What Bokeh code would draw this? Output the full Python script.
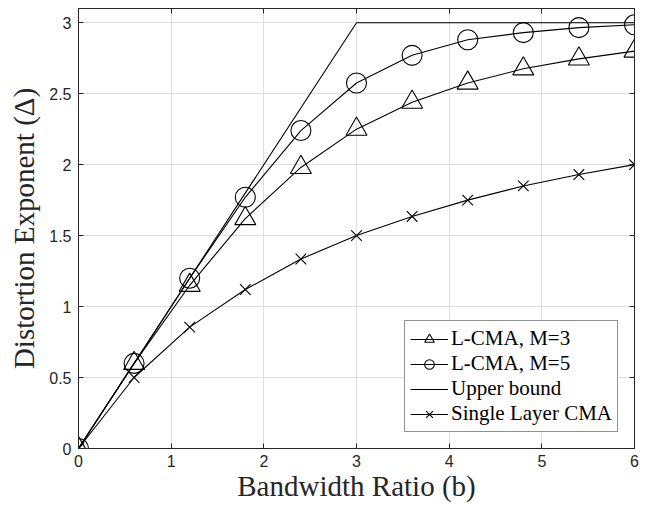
from bokeh.plotting import figure
from bokeh.models import Range1d, FixedTicker, LinearAxis, Legend, LegendItem
from bokeh.embed import file_html
from bokeh.resources import INLINE

# ---- data ----
b = [0, 0.6, 1.2, 1.8, 2.4, 3.0, 3.6, 4.2, 4.8, 5.4, 6.0]
lcma_m3 = [0, 0.60, 1.15, 1.62, 1.98, 2.25, 2.44, 2.575, 2.675, 2.745, 2.80]
lcma_m5 = [0, 0.60, 1.20, 1.77, 2.24, 2.575, 2.77, 2.88, 2.93, 2.965, 2.985]
upper_b = [0, 3, 6]
upper = [0, 3, 3]
single = [0, 0.50, 0.855, 1.12, 1.335, 1.50, 1.635, 1.75, 1.85, 1.93, 2.00]

x_ticks = [0, 1, 2, 3, 4, 5, 6]
x_tick_labels = ["0", "1", "2", "3", "4", "5", "6"]
y_ticks = [0, 0.5, 1, 1.5, 2, 2.5, 3]
y_tick_labels = ["0", "0.5", "1", "1.5", "2", "2.5", "3"]

x_label = "Bandwidth Ratio (b)"
y_label = "Distortion Exponent (\u0394)"
series_names = ["L-CMA, M=3", "L-CMA, M=5", "Upper bound", "Single Layer CMA"]

AX = "#262626"
GRID = "#dedede"
SERIF = "Liberation Serif"
SANS = "Liberation Sans"

p = figure(width=645, height=506, x_range=Range1d(0, 6), y_range=Range1d(0, 3.1),
           output_backend="svg", toolbar_location=None,
           min_border_left=78, min_border_right=11, min_border_top=8, min_border_bottom=58,
           background_fill_color="white", border_fill_color="white",
           outline_line_color=AX, outline_line_width=1)

# axes
for ax, ticks, labels in ((p.xaxis[0], x_ticks, x_tick_labels), (p.yaxis[0], y_ticks, y_tick_labels)):
    ax.ticker = FixedTicker(ticks=ticks)
    ax.major_label_overrides = {t: l for t, l in zip(ticks, labels)}
    ax.major_tick_in = 5
    ax.major_tick_out = 0
    ax.minor_tick_line_color = None
    ax.axis_line_color = AX
    ax.major_tick_line_color = AX
    ax.major_label_text_color = AX
    ax.major_label_text_font = SANS
    ax.major_label_text_font_size = "16px"
    ax.axis_label_text_font = SERIF
    ax.axis_label_text_font_size = "29px"
    ax.axis_label_text_font_style = "normal"
    ax.axis_label_text_color = AX

p.xaxis[0].axis_label = x_label
p.yaxis[0].axis_label = y_label
p.xaxis[0].major_label_standoff = 6
p.xaxis[0].axis_label_standoff = 0
p.yaxis[0].major_label_standoff = 7
p.yaxis[0].axis_label_standoff = 6

# box ticks on top and right (no labels)
top = LinearAxis(ticker=FixedTicker(ticks=x_ticks), major_tick_in=5, major_tick_out=0,
                 minor_tick_line_color=None, major_label_text_color=None,
                 major_label_standoff=0, axis_line_color=AX, major_tick_line_color=AX)
right = LinearAxis(ticker=FixedTicker(ticks=y_ticks), major_tick_in=5, major_tick_out=0,
                   minor_tick_line_color=None, major_label_text_color=None,
                   major_label_standoff=0, axis_line_color=AX, major_tick_line_color=AX)
p.add_layout(top, "above")
p.add_layout(right, "right")

p.grid.grid_line_color = GRID
p.grid.grid_line_width = 1
p.xgrid.ticker = FixedTicker(ticks=x_ticks)
p.ygrid.ticker = FixedTicker(ticks=y_ticks)

LW = 1.1
l3 = p.line(b, lcma_m3, line_color="black", line_width=LW)
m3 = p.scatter(b, lcma_m3, marker="triangle", size=21, fill_color=None, line_color="black", line_width=LW)
l5 = p.line(b, lcma_m5, line_color="black", line_width=LW)
m5 = p.scatter(b, lcma_m5, marker="circle", size=20, fill_color=None, line_color="black", line_width=LW)
lu = p.line(upper_b, upper, line_color="black", line_width=LW)
ls = p.line(b, single, line_color="black", line_width=LW)
ms = p.scatter(b, single, marker="x", size=15, line_color="black", line_width=LW)

legend = Legend(items=[
    LegendItem(label=series_names[0], renderers=[l3, m3]),
    LegendItem(label=series_names[1], renderers=[l5, m5]),
    LegendItem(label=series_names[2], renderers=[lu]),
    LegendItem(label=series_names[3], renderers=[ls, ms]),
], location="bottom_right", margin=16, padding=5, spacing=0,
    glyph_width=38, glyph_height=24, label_height=24, label_standoff=3,
    label_text_font=SERIF, label_text_font_size="21px", label_text_color="black",
    border_line_color=AX, border_line_width=1,
    background_fill_color="white", background_fill_alpha=1)
p.add_layout(legend)

open("out.html", "w").write(file_html(p, INLINE))
